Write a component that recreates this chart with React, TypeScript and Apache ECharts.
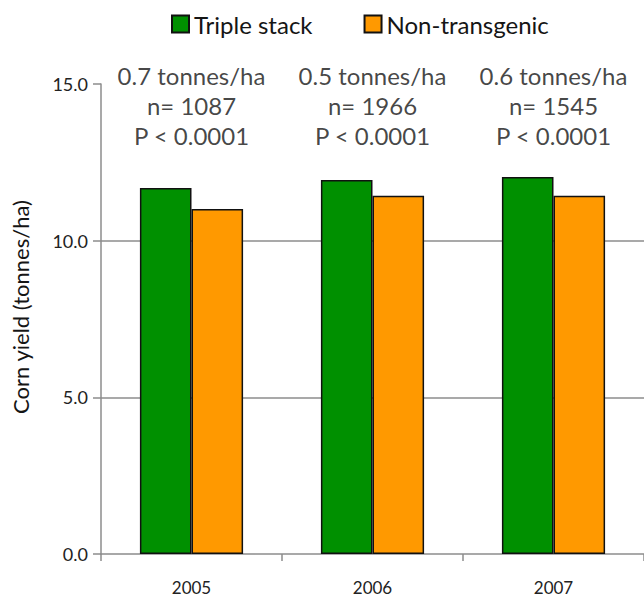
import React, { useEffect, useRef } from "react";
import * as echarts from "echarts";

const years = ["2005", "2006", "2007"];
const tripleStack = [11.68, 11.94, 12.03];
const nonTransgenic = [11.01, 11.43, 11.43];
const diffLabels = ["0.7 tonnes/ha", "0.5 tonnes/ha", "0.6 tonnes/ha"];
const nLabels = ["n= 1087", "n= 1966", "n= 1545"];
const pLabels = ["P < 0.0001", "P < 0.0001", "P < 0.0001"];
const annotationY = [15, 15, 15];

const FONT = "Lato";

export default function App() {
  const ref = useRef<HTMLDivElement>(null);
  useEffect(() => {
    if (!ref.current) return;
    const chart = echarts.init(ref.current, null, { renderer: "svg" });
    chart.setOption({
      animation: false,
      textStyle: { fontFamily: FONT },
      legend: {
        top: 7,
        left: 166,
        itemWidth: 17,
        itemHeight: 17,
        itemGap: 51,
        icon: "rect",
        textStyle: { fontSize: 24, color: "#151515", fontFamily: FONT },
        data: ["Triple stack", "Non-transgenic"],
      },
      grid: { left: 101, right: 0, top: 84, bottom: 45, containLabel: false },
      xAxis: {
        type: "category",
        data: years,
        axisLine: { lineStyle: { color: "#8c8c8c", width: 1.5 } },
        axisTick: { show: true, length: 7, lineStyle: { color: "#8c8c8c", width: 1.5 } },
        axisLabel: { fontSize: 17, color: "#222", margin: 25, fontFamily: FONT },
      },
      yAxis: {
        type: "value",
        min: 0,
        max: 15,
        interval: 5,
        name: "Corn yield (tonnes/ha)",
        nameLocation: "middle",
        nameGap: 70,
        nameTextStyle: { fontSize: 22, color: "#151515", fontFamily: FONT, padding: [0, 0, 0, 24] },
        axisLine: { show: true, lineStyle: { color: "#8c8c8c", width: 1.5 } },
        axisTick: { show: true, length: 8, lineStyle: { color: "#8c8c8c", width: 1.5 } },
        axisLabel: {
          fontSize: 18,
          color: "#222",
          margin: 13,
          fontFamily: FONT,
          formatter: (v: number) => v.toFixed(1),
        },
        splitLine: {
          show: true,
          lineStyle: {
            color: ["transparent", "#8c8c8c", "#8c8c8c", "transparent"],
            width: 1.5,
          },
        },
      },
      series: [
        {
          name: "Triple stack",
          type: "bar",
          data: tripleStack,
          barGap: "0%",
          barCategoryGap: "43%",
          itemStyle: { color: "#009000", borderColor: "#111", borderWidth: 1.5 },
        },
        {
          name: "Non-transgenic",
          type: "bar",
          data: nonTransgenic,
          itemStyle: { color: "#ff9900", borderColor: "#111", borderWidth: 1.5 },
        },
        {
          name: "annotations",
          type: "scatter",
          data: annotationY,
          symbolSize: 0,
          silent: true,
          z: 10,
          label: {
            show: true,
            position: "inside",
            offset: [0, 21],
            fontSize: 24,
            lineHeight: 30,
            color: "#151515",
            fontFamily: FONT,
            align: "center",
            formatter: (p: any) =>
              `${diffLabels[p.dataIndex]}\n${nLabels[p.dataIndex]}\n${pLabels[p.dataIndex]}`,
          },
        },
      ],
    });
    return () => chart.dispose();
  }, []);
  return (
    <div
      ref={ref}
      style={{ position: "fixed", left: 0, top: 0, width: 644, height: 599, background: "#fff" }}
    />
  );
}
